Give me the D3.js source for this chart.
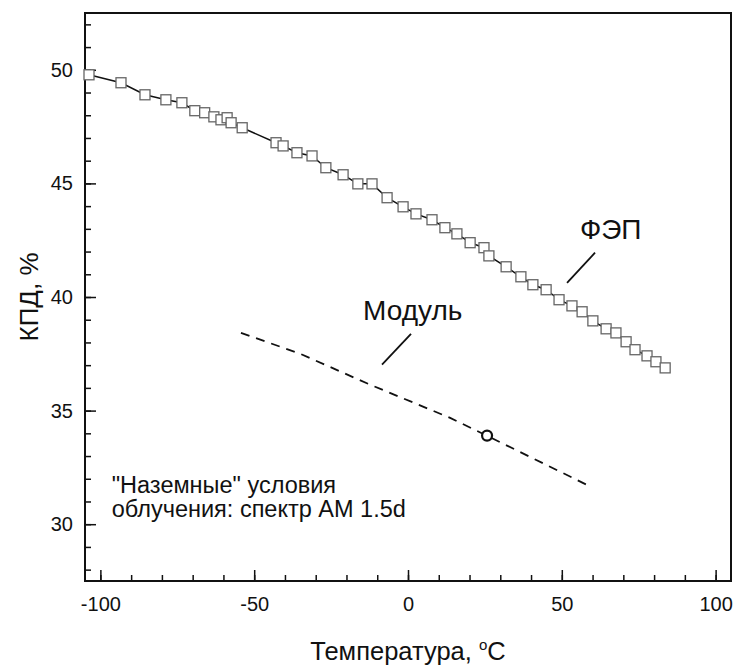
<!DOCTYPE html>
<html>
<head>
<meta charset="utf-8">
<script src="https://cdn.jsdelivr.net/npm/d3@7"></script>
<style>
  body { margin: 0; background: #fff; }
  text { font-family: "Liberation Sans", Arial, sans-serif; fill: #111; }
</style>
</head>
<body>
<svg width="736" height="668"></svg>
<script>
// solar cell (ФЭП) measured points
const fepTemp = [-103.7, -93.3, -85.5, -78.7, -73.5, -69.3, -66.1, -63.1, -60.8, -58.8, -57.5, -53.9,
    -42.9, -40.6, -36.1, -31.2, -26.7, -21.1, -16.3, -11.7, -6.8, -1.6, 2.6, 7.8, 12.0, 15.9, 20.2,
    24.7, 26.3, 31.9, 36.7, 40.6, 44.9, 49.1, 53.3, 56.6, 60.1, 64.4, 67.6, 70.9, 73.8, 77.7, 80.6, 83.6];
const fepEff = [49.78, 49.43, 48.90, 48.68, 48.55, 48.20, 48.11, 47.93, 47.80, 47.89, 47.67, 47.45,
    46.79, 46.65, 46.35, 46.21, 45.69, 45.38, 44.98, 44.98, 44.37, 43.97, 43.66, 43.40, 43.05, 42.78, 42.39,
    42.17, 41.81, 41.33, 40.89, 40.54, 40.32, 39.88, 39.61, 39.35, 38.95, 38.60, 38.42, 38.03, 37.68, 37.41, 37.15, 36.88];

// module (dashed curve) and the single measured module point
const moduleTemp = [-54.3, -35.0, -13.0, 13.7, 25.7, 58.2];
const moduleEff = [38.42, 37.50, 36.18, 34.68, 33.89, 31.73];
const measuredTemp = [25.7];
const measuredEff = [33.9];

const xMajor = [-100, -50, 0, 50, 100];
const xMinor = d3.range(-100, 101, 10);
const yMajor = [30, 35, 40, 45, 50];
const yMinor = d3.range(28, 53, 1);

const svg = d3.select("svg"),
    width = +svg.attr("width"),
    height = +svg.attr("height");

const margin = {top: 13, right: 5, bottom: 87, left: 85};

const x = d3.scaleLinear().domain([-105, 105]).range([margin.left, width - margin.right]);
const y = d3.scaleLinear().domain([27.5, 52.5]).range([height - margin.bottom, margin.top]);

const plain = d => String(d); // hyphen minus like the original, not U+2212

// minor ticks first, then major ticks with labels
svg.append("g")
    .attr("transform", `translate(0,${height - margin.bottom})`)
    .call(d3.axisBottom(x).tickValues(xMinor).tickSize(-6).tickFormat(""))
    .call(g => g.select(".domain").remove())
    .call(g => g.selectAll("line").attr("stroke", "#111").attr("stroke-width", 1.5));

svg.append("g")
    .attr("transform", `translate(0,${height - margin.bottom})`)
    .call(d3.axisBottom(x).tickValues(xMajor).tickSize(-11).tickPadding(16).tickFormat(plain))
    .call(g => g.select(".domain").remove())
    .call(g => g.selectAll("line").attr("stroke", "#111").attr("stroke-width", 1.5))
    .call(g => g.selectAll("text").attr("font-size", 20).attr("dy", "0.71em"));

svg.append("g")
    .attr("transform", `translate(${margin.left},0)`)
    .call(d3.axisLeft(y).tickValues(yMinor).tickSize(-6).tickFormat(""))
    .call(g => g.select(".domain").remove())
    .call(g => g.selectAll("line").attr("stroke", "#111").attr("stroke-width", 1.5));

svg.append("g")
    .attr("transform", `translate(${margin.left},0)`)
    .call(d3.axisLeft(y).tickValues(yMajor).tickSize(-11).tickPadding(12).tickFormat(plain))
    .call(g => g.select(".domain").remove())
    .call(g => g.selectAll("line").attr("stroke", "#111").attr("stroke-width", 1.5))
    .call(g => g.selectAll("text").attr("font-size", 20));

// frame
svg.append("rect")
    .attr("x", margin.left)
    .attr("y", margin.top)
    .attr("width", width - margin.left - margin.right)
    .attr("height", height - margin.top - margin.bottom)
    .attr("fill", "none")
    .attr("stroke", "#111")
    .attr("stroke-width", 2);

// axis titles
svg.append("text")
    .attr("x", (margin.left + width - margin.right) / 2)
    .attr("y", 660)
    .attr("text-anchor", "middle")
    .attr("font-size", 25.5)
    .html('Температура, <tspan dy="-10" font-size="15">o</tspan><tspan dy="10">C</tspan>');

svg.append("text")
    .attr("transform", `translate(38,${(margin.top + height - margin.bottom) / 2}) rotate(-90)`)
    .attr("text-anchor", "middle")
    .attr("font-size", 26)
    .text("КПД, %");

// FEP line + squares
const fep = fepTemp.map((t, i) => [t, fepEff[i]]);
const line = d3.line().x(d => x(d[0])).y(d => y(d[1]));

svg.append("path")
    .datum(fep)
    .attr("d", line)
    .attr("fill", "none")
    .attr("stroke", "#111")
    .attr("stroke-width", 1.5);

svg.append("g")
    .selectAll("rect")
    .data(fep)
    .enter().append("rect")
    .attr("x", d => x(d[0]) - 5)
    .attr("y", d => y(d[1]) - 5)
    .attr("width", 10)
    .attr("height", 10)
    .attr("fill", "#fff")
    .attr("stroke", "#666")
    .attr("stroke-width", 1.3);

// module dashed curve
const mod = moduleTemp.map((t, i) => [t, moduleEff[i]]);
svg.append("path")
    .datum(mod)
    .attr("d", line)
    .attr("fill", "none")
    .attr("stroke", "#111")
    .attr("stroke-width", 1.8)
    .attr("stroke-dasharray", "9,7");

svg.append("g")
    .selectAll("circle")
    .data(measuredTemp)
    .enter().append("circle")
    .attr("cx", d => x(d))
    .attr("cy", (d, i) => y(measuredEff[i]))
    .attr("r", 5)
    .attr("fill", "#fff")
    .attr("stroke", "#111")
    .attr("stroke-width", 2.2);

// annotations
svg.append("line")
    .attr("x1", x(51.7)).attr("y1", y(40.62))
    .attr("x2", x(60.8)).attr("y2", y(41.95))
    .attr("stroke", "#111").attr("stroke-width", 1.8);
svg.append("text")
    .attr("x", x(55.9)).attr("y", y(42.55))
    .attr("font-size", 28)
    .text("ФЭП");

svg.append("line")
    .attr("x1", x(-8.45)).attr("y1", y(37.02))
    .attr("x2", x(0.98)).attr("y2", y(38.38))
    .attr("stroke", "#111").attr("stroke-width", 1.8);
svg.append("text")
    .attr("x", x(-14.6)).attr("y", y(39.0))
    .attr("font-size", 28)
    .text("Модуль");

svg.append("text")
    .attr("x", x(-96.3)).attr("y", y(31.38))
    .attr("font-size", 23.5)
    .text('"Наземные" условия');
svg.append("text")
    .attr("x", x(-96.3)).attr("y", y(30.33))
    .attr("font-size", 23.5)
    .text("облучения: спектр АМ 1.5d");
</script>
</body>
</html>
